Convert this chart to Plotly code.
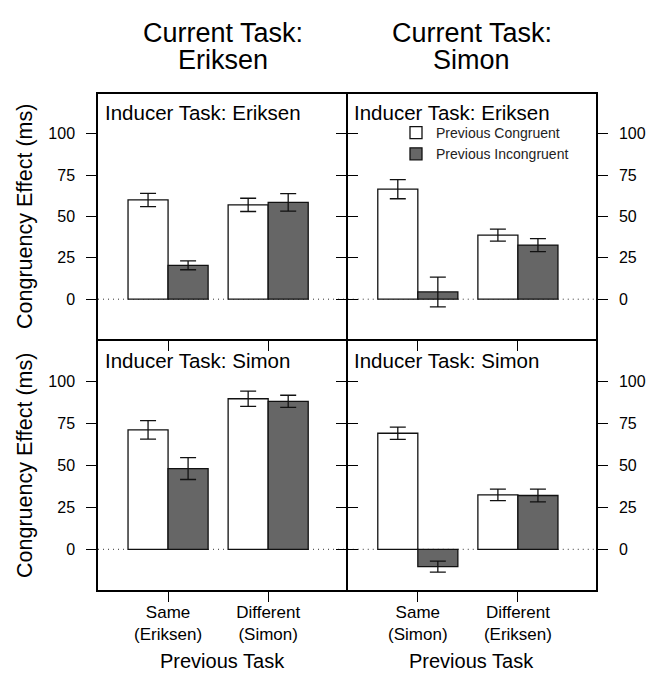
import plotly.graph_objects as go

# ---------------- data ----------------
series_names = ["Previous Congruent", "Previous Incongruent"]
left_tick_labels = ["Same<br>(Eriksen)", "Different<br>(Simon)"]
right_tick_labels = ["Same<br>(Simon)", "Different<br>(Eriksen)"]
group_positions = [0, 1]

# Current Task: Eriksen, Inducer Task: Eriksen
tl_congruent = [60, 57]
tl_congruent_err = [4, 4]
tl_incongruent = [20.5, 58.5]
tl_incongruent_err = [2.7, 5.3]

# Current Task: Simon, Inducer Task: Eriksen
tr_congruent = [66.5, 38.7]
tr_congruent_err = [5.8, 3.6]
tr_incongruent = [4.4, 32.7]
tr_incongruent_err = [9.0, 3.9]

# Current Task: Eriksen, Inducer Task: Simon
bl_congruent = [71, 89.5]
bl_congruent_err = [5.5, 4.5]
bl_incongruent = [48, 88]
bl_incongruent_err = [6.5, 3.6]

# Current Task: Simon, Inducer Task: Simon
br_congruent = [69, 32.4]
br_congruent_err = [3.7, 3.4]
br_incongruent = [-10.3, 32]
br_incongruent_err = [3.3, 3.8]

y_ticks = [0, 25, 50, 75, 100]

# ---------------- layout helpers ----------------
# page body has an 8px margin, so the figure is 8px smaller and shifted
OFF = 8
W, H = 656 - OFF, 674 - OFF
FONT = "Liberation Sans, Arial, Helvetica, sans-serif"
COLORS = ["#ffffff", "#666666"]


def px(x):
    return (x - OFF) / W


def py(y):
    return 1 - (y - OFF) / H


xL = [px(98), px(346.25)]
xR = [px(347.75), px(596)]
yT = [py(339.25), py(94)]
yB = [py(590), py(340.75)]

panels = [
    ("", xL, yT, tl_congruent, tl_congruent_err, tl_incongruent, tl_incongruent_err, left_tick_labels, True, True, "Inducer Task: Eriksen"),
    ("2", xR, yT, tr_congruent, tr_congruent_err, tr_incongruent, tr_incongruent_err, right_tick_labels, True, False, "Inducer Task: Eriksen"),
    ("3", xL, yB, bl_congruent, bl_congruent_err, bl_incongruent, bl_incongruent_err, left_tick_labels, False, True, "Inducer Task: Simon"),
    ("4", xR, yB, br_congruent, br_congruent_err, br_incongruent, br_incongruent_err, right_tick_labels, False, False, "Inducer Task: Simon"),
]

fig = go.Figure()
layout = dict(
    width=W, height=H,
    margin=dict(l=0, r=0, t=0, b=0),
    paper_bgcolor="white", plot_bgcolor="white",
    barmode="group", bargap=0.2, bargroupgap=0,
    font=dict(family=FONT, color="black"),
    showlegend=True,
    legend=dict(
        x=px(396), y=py(117), xanchor="left", yanchor="top",
        bgcolor="rgba(0,0,0,0)", borderwidth=0,
        font=dict(size=14, family=FONT, color="#222"),
        tracegroupgap=0,
    ),
)

shapes = []
annotations = []

for suffix, xd, yd, cong, cerr, inc, ierr, ticklabels, top, left, label in panels:
    xa = "x" + suffix
    ya = "y" + suffix
    for name, vals, errs, col in [
        (series_names[0], cong, cerr, COLORS[0]),
        (series_names[1], inc, ierr, COLORS[1]),
    ]:
        fig.add_trace(go.Bar(
            x=group_positions, y=vals, name=name,
            xaxis=xa, yaxis=ya,
            marker=dict(color=col, line=dict(color="#111", width=1.3)),
            error_y=dict(type="data", array=errs, color="#111", thickness=1.3, width=8),
            showlegend=(suffix == "2"),
            legendgroup=name,
        ))
    layout["xaxis" + suffix] = dict(
        domain=xd, anchor=ya, range=[-0.70, 1.78],
        tickvals=group_positions, ticktext=ticklabels,
        showticklabels=not top,
        ticks="outside", ticklen=10, tickwidth=1.2, tickcolor="black",
        showline=True, linecolor="black", linewidth=1.5, mirror=True,
        showgrid=False, zeroline=False, fixedrange=True,
        tickfont=dict(size=17, family=FONT, color="black"),
        ticklabelstandoff=-4,
    )
    layout["yaxis" + suffix] = dict(
        domain=yd, anchor=xa, range=[-24.2, 124],
        side="left" if left else "right",
        tickvals=y_ticks,
        ticks="outside", ticklen=10, tickwidth=1.2, tickcolor="black",
        showline=True, linecolor="black", linewidth=1.5, mirror="ticks",
        showgrid=False, zeroline=False, fixedrange=True,
        tickfont=dict(size=16, family=FONT, color="black"),
        ticklabelstandoff=8,
    )
    shapes.append(dict(
        type="line", xref=xa + " domain", yref=ya,
        x0=0, x1=1, y0=0, y1=0,
        line=dict(color="#333", width=1, dash="1px,4px"), layer="below",
    ))
    annotations.append(dict(
        text=label, xref="paper", yref="paper",
        x=px(102.5 if left else 351.5), y=py(112.5 if top else 360.5),
        xanchor="left", yanchor="middle", showarrow=False,
        font=dict(size=20.5, family=FONT, color="black"),
    ))

for yc in [217, 466]:
    annotations.append(dict(
        text="Congruency Effect (ms)", xref="paper", yref="paper",
        x=px(25), y=py(yc), xanchor="center", yanchor="middle",
        textangle=-90, showarrow=False,
        font=dict(size=21.5, family=FONT, color="black"),
    ))

for xc, task in [(222.5, "Eriksen"), (471.5, "Simon")]:
    annotations.append(dict(
        text="Current Task:", xref="paper", yref="paper",
        x=px(xc), y=py(33), xanchor="center", yanchor="middle",
        showarrow=False, font=dict(size=27, family=FONT, color="black"),
    ))
    annotations.append(dict(
        text=task, xref="paper", yref="paper",
        x=px(xc), y=py(59.5), xanchor="center", yanchor="middle",
        showarrow=False, font=dict(size=27, family=FONT, color="black"),
    ))
    annotations.append(dict(
        text="Previous Task", xref="paper", yref="paper",
        x=px(xc), y=py(661), xanchor="center", yanchor="middle",
        showarrow=False, font=dict(size=20, family=FONT, color="black"),
    ))

layout["shapes"] = shapes
layout["annotations"] = annotations
fig.update_layout(**layout)

fig.write_html("out.html")
